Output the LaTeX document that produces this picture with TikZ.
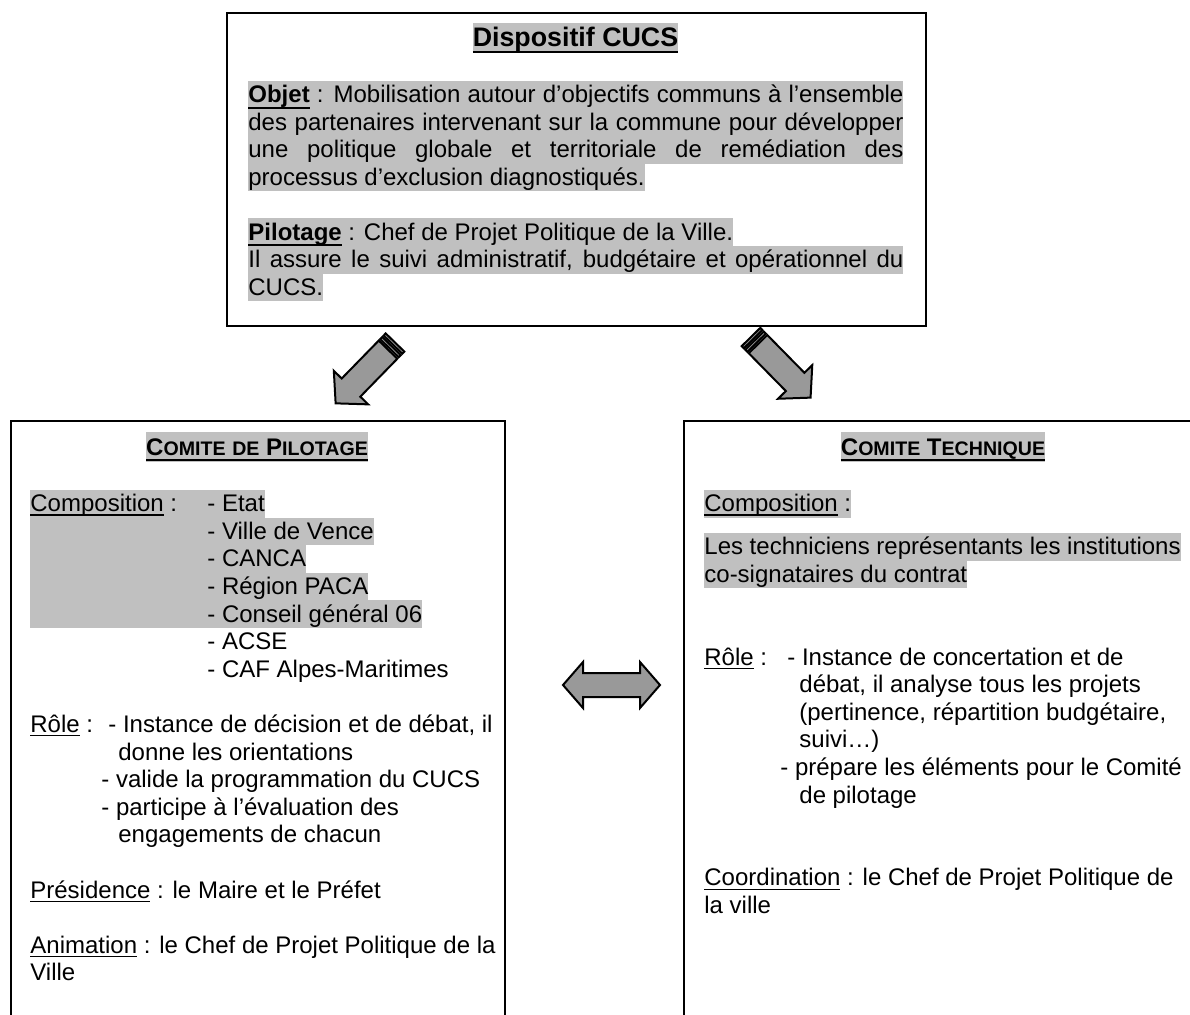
\documentclass[tikz,border=0pt]{standalone}
\usepackage{fontspec}
\setmainfont{Liberation Sans}
\definecolor{hlgray}{HTML}{C0C0C0}
\definecolor{arrowgray}{HTML}{999999}
\newcommand{\uln}[1]{\setbox0=\hbox{#1}\rlap{\rule[-2pt]{\wd0}{0.6pt}}\box0\relax}
\newcommand{\ulb}[1]{\setbox0=\hbox{#1}\rlap{\rule[-3pt]{\wd0}{0.9pt}}\box0\relax}
\newcommand{\fsc}[1]{{\fontsize{9.8}{11}\selectfont #1}}
\newcommand{\stripedarrow}[2]{%
  \begin{scope}[shift={(#1)},rotate=#2]
    \filldraw[blockarrow] (0,-13) rectangle (3,13);
    \filldraw[blockarrow] (5,-13) rectangle (8,13);
    \filldraw[blockarrow] (10,-13) -- (63,-13) -- (63,-24) -- (85,0)
      -- (63,24) -- (63,13) -- (10,13) -- cycle;
  \end{scope}}
\begin{document}
\begin{tikzpicture}[x=0.5pt,y=-0.5pt,
    panel/.style={draw,line width=1pt,inner sep=0,anchor=north west},
    txt/.style={anchor=base west,inner sep=0,text height=10.8pt,text depth=3pt,
      font=\fontsize{12}{13.8}\selectfont},
    hl/.style={txt,fill=hlgray},
    head/.style={anchor=base,inner sep=0,fill=hlgray,text height=11.5pt,text depth=3.5pt,
      font=\fontsize{12}{13.8}\selectfont\bfseries},
    blockarrow/.style={fill=arrowgray,draw=black,line width=1pt,line join=miter}]
  \useasboundingbox (0,0) rectangle (1190,1014);
  \clip (0,0) rectangle (1190,1014);

  \node[panel,minimum width=349.5pt,minimum height=156.5pt] (cucs) at (226,12) {};
  \node[panel,minimum width=247pt,minimum height=320pt] (copil) at (10,420) {};
  \node[panel,minimum width=260pt,minimum height=320pt] (cotech) at (683,420) {};

  % dispositif
  \node[head,font=\bfseries\fontsize{13.4}{15}\selectfont,text height=12pt,text depth=3.3pt]
    (cucs-title) at (575.5,46.7) {\ulb{Dispositif CUCS}};
  \node[hl] (objet1) at (248,102.6) {\makebox[327.5pt][s]{\ulb{\bfseries Objet} : Mobilisation autour d’objectifs communs à l’ensemble}};
  \node[hl] (objet2) at (248,130.2) {\makebox[327.5pt][s]{des partenaires intervenant sur la commune pour développer}};
  \node[hl] (objet3) at (248,157.8) {\makebox[327.5pt][s]{une politique globale et territoriale de remédiation des}};
  \node[hl] (objet4) at (248,185.4) {processus d’exclusion diagnostiqués.};
  \node[hl] (pilot1) at (248,240) {\ulb{\bfseries Pilotage} : Chef de Projet Politique de la Ville.};
  \node[hl] (pilot2) at (248,267.6) {\makebox[327.5pt][s]{Il assure le suivi administratif, budgétaire et opérationnel du}};
  \node[hl] (pilot3) at (248,295.2) {CUCS.};

  % comite de pilotage
  \node[head] (copil-title) at (257,455) {\ulb{C\fsc{OMITE} \fsc{DE} P\fsc{ILOTAGE}}};
  \node[hl] (comp1) at (30,511.6) {\makebox[88.5pt][l]{\uln{Composition} :}- Etat};
  \node[hl] (comp2) at (30,539.2) {\hspace*{88.5pt}- Ville de Vence};
  \node[hl] (comp3) at (30,566.8) {\hspace*{88.5pt}- CANCA};
  \node[hl] (comp4) at (30,594.4) {\hspace*{88.5pt}- Région PACA};
  \node[hl] (comp5) at (30,622) {\hspace*{88.5pt}- Conseil général 06};
  \node[txt] (comp6) at (207,649.6) {- ACSE};
  \node[txt] (comp7) at (207,677.2) {- CAF Alpes-Maritimes};
  \node[txt] (role1) at (30,732.4) {\makebox[39pt][l]{\uln{Rôle} :}- Instance de décision et de débat, il};
  \node[txt] (role2) at (118,760) {donne les orientations};
  \node[txt] (role3) at (101,787.6) {- valide la programmation du CUCS};
  \node[txt] (role4) at (101,815.2) {- participe à l’évaluation des};
  \node[txt] (role5) at (118,842.8) {engagements de chacun};
  \node[txt] (pres) at (30,898) {\uln{Présidence} : le Maire et le Préfet};
  \node[txt] (anim1) at (30,953.2) {\uln{Animation} : le Chef de Projet Politique de la};
  \node[txt] (anim2) at (30,980.8) {Ville};

  % comite technique
  \node[head] (cotech-title) at (943,455) {\ulb{C\fsc{OMITE} T\fsc{ECHNIQUE}}};
  \node[hl] (tcomp) at (704,511.6) {\uln{Composition} :};
  \node[hl] (tech1) at (704,554.6) {Les techniciens représentants les institutions};
  \node[hl] (tech2) at (704,582.2) {co-signataires du contrat};
  \node[txt] (trole1) at (704,665) {\makebox[41.5pt][l]{\uln{Rôle} :}- Instance de concertation et de};
  \node[txt] (trole2) at (799,692.6) {débat, il analyse tous les projets};
  \node[txt] (trole3) at (799,720.2) {(pertinence, répartition budgétaire,};
  \node[txt] (trole4) at (799,747.8) {suivi…)};
  \node[txt] (trole5) at (780,775.4) {- prépare les éléments pour le Comité};
  \node[txt] (trole6) at (799,803) {de pilotage};
  \node[txt] (coord1) at (704,885.8) {\uln{Coordination} : le Chef de Projet Politique de};
  \node[txt] (coord2) at (704,913.4) {la ville};

  % arrows
  \coordinate (arrL) at (395,342.5);
  \coordinate (arrR) at (751,337);
  \coordinate (link) at (611.5,685);
  \stripedarrow{arrL}{225.7}
  \stripedarrow{arrR}{-45.5}
  \begin{scope}[shift={(link)}]
    \filldraw[blockarrow] (-48.5,0) -- (-28.5,-23) -- (-28.5,-12) -- (28.5,-12)
      -- (28.5,-23) -- (48.5,0) -- (28.5,23) -- (28.5,12) -- (-28.5,12)
      -- (-28.5,23) -- cycle;
  \end{scope}
\end{tikzpicture}
\end{document}
